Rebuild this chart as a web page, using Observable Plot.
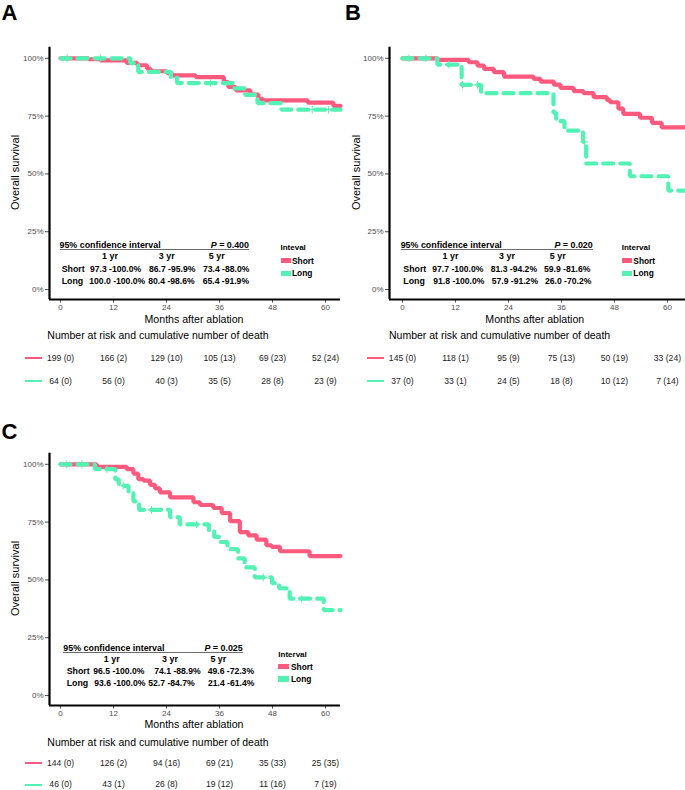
<!DOCTYPE html>
<html><head><meta charset="utf-8">
<script src="https://cdn.jsdelivr.net/npm/d3@7"></script>
<script src="https://cdn.jsdelivr.net/npm/@observablehq/plot@0.6"></script>
<style>
body{margin:0;background:#fff;}
#root{position:relative;width:685px;height:790px;overflow:hidden;background:#fff;font-family:"Liberation Sans",Arial,Helvetica,sans-serif;color:#000;}
.panel{position:absolute;width:345px;height:400px;}
.abs{position:absolute;white-space:pre;line-height:1;}
.panel svg{position:absolute;overflow:visible;}
</style></head><body><div id="root"></div>
<script>
// ---------- shared labels ----------
const monthTicks = [0, 12, 24, 36, 48, 60];
const survTicks = [0, 25, 50, 75, 100];
const groups = ["Short", "Long"];
const yearLabels = ["1 yr", "3 yr", "5 yr"];
const xTitle = "Months after ablation";
const yTitle = "Overall survival";
const riskTitle = "Number at risk and cumulative number of death";
const ciTitle = "95% confidence interval";

// ---------- Panel A ----------
const aShortTime = [0, 6.3, 9, 15, 17.4, 19.6, 20.4, 24.1, 25.2, 30.6, 37, 38, 39.7, 43, 44.8, 45.8, 56, 61.8, 63.4];
const aShortSurv = [100, 99.6, 99.1, 98, 97, 95.5, 94.4, 93.6, 92.6, 91.9, 89.7, 87.6, 86.1, 84.3, 82.5, 81.8, 80.8, 79.4, 79.4];
const aLongTime = [0, 15.8, 17.6, 25, 26.4, 39.3, 41.8, 44.6, 50, 63.4];
const aLongSurv = [100, 97.9, 94.1, 91.8, 89.3, 87, 84.2, 80.6, 77.8, 77.8];
const aLongCensorTime = [1.5, 9, 34, 57, 60.7];
const aLongCensorSurv = [100, 100, 89.3, 77.8, 77.8];
const aRiskShortN = [199, 166, 129, 105, 69, 52];
const aRiskShortD = [0, 2, 10, 13, 23, 24];
const aRiskLongN = [64, 56, 40, 35, 28, 23];
const aRiskLongD = [0, 0, 3, 5, 8, 9];
const aCIShort = ["97.3 -100.0%", "86.7 -95.9%", "73.4 -88.0%"];
const aCILong = ["100.0 -100.0%", "80.4 -98.6%", "65.4 -91.9%"];
const aP = "0.400";
const aLegendTitle = "Inteval";

// ---------- Panel B ----------
const bShortTime = [0, 8, 15, 17, 18.5, 20.7, 23, 29.7, 31.3, 34.3, 35.8, 38.8, 41, 43.3, 46.3, 47, 48.9, 50, 53.8, 56.5, 58.7, 64.1];
const bShortSurv = [100, 99.3, 98.3, 96.8, 95.4, 94, 92.1, 91.1, 89.9, 88.6, 87.2, 85.8, 84.9, 83.2, 82, 81, 78.2, 76, 74.3, 72.1, 70.1, 70.1];
const bLongTime = [0, 7.9, 13.4, 17.8, 34.2, 34.8, 36.7, 40.9, 41.6, 51.5, 60.2, 64.1];
const bLongSurv = [100, 97.3, 88.5, 84.9, 76.5, 72.8, 68.7, 63.8, 54.5, 49.0, 42.8, 42.8];
const bLongCensorTime = [1.5, 5.3, 10.5, 13.6, 17, 41.2];
const bLongCensorSurv = [100, 100, 97.3, 88.5, 88.5, 63.8];
const bRiskShortN = [145, 118, 95, 75, 50, 33];
const bRiskShortD = [0, 1, 9, 13, 19, 24];
const bRiskLongN = [37, 33, 24, 18, 10, 7];
const bRiskLongD = [0, 1, 5, 8, 12, 14];
const bCIShort = ["97.7 -100.0%", "81.3 -94.2%", "59.9 -81.6%"];
const bCILong = ["91.8 -100.0%", "57.9 -91.2%", "26.0 -70.2%"];
const bP = "0.020";
const bLegendTitle = "Interval";

// ---------- Panel C ----------
const cShortTime = [0, 8.2, 15, 16.5, 17.6, 18.8, 20.3, 21.4, 22.5, 24.8, 30.1, 31.6, 34.6, 36.5, 38.4, 40.6, 42.5, 44.4, 46.6, 47.8, 49.7, 56.4, 63.4];
const cShortSurv = [100, 98.9, 97.9, 96, 93.6, 92.9, 91.1, 89.6, 87.9, 85.7, 83.6, 82.4, 81.1, 78.9, 75.4, 70.7, 69.3, 67.4, 65, 64.3, 62.4, 60.3, 60.3];
const cLongTime = [0, 7.8, 12.4, 13.2, 15.4, 16.5, 17.8, 24.8, 27, 33.6, 34.8, 36, 37.8, 40.2, 41.7, 44, 47.9, 49.5, 51.9, 59.6, 63.4];
const cLongSurv = [100, 97.9, 93.5, 90.7, 87.5, 84, 80.3, 77.1, 74, 71.2, 68.6, 66.4, 63.3, 59.3, 55.4, 51.1, 48.6, 46.4, 41.9, 36.9, 36.9];
const cLongCensorTime = [1.4, 4.8, 10.5, 14.2, 20.6, 30.8, 45.9, 54.6];
const cLongCensorSurv = [100, 100, 97.9, 90.7, 80.3, 74, 51.1, 41.9];
const cRiskShortN = [144, 126, 94, 69, 35, 25];
const cRiskShortD = [0, 2, 16, 21, 33, 35];
const cRiskLongN = [46, 43, 26, 19, 11, 7];
const cRiskLongD = [0, 1, 8, 12, 16, 19];
const cCIShort = ["96.5 -100.0%", "74.1 -88.9%", "49.6 -72.3%"];
const cCILong = ["93.6 -100.0%", "52.7 -84.7%", "21.4 -61.4%"];
const cP = "0.025";
const cLegendTitle = "Interval";

// ---------- styling ----------
const PINK = "#FF5A7E";
const GREEN = "#52F2B4";
const FONT = '"Liberation Sans", Arial, Helvetica, sans-serif';
const yDomain = [-4.3, 104.8];

const root = document.getElementById("root");

function txt(parent, str, x, y, o = {}) {
  const size = o.size || 9;
  const d = document.createElement("div");
  d.className = "abs";
  d.style.fontSize = size + "px";
  d.style.fontWeight = o.weight || "normal";
  d.style.color = o.color || "#000";
  d.style.left = x + "px";
  d.style.top = (y - 0.49 * size) + "px";
  const a = o.anchor || "start";
  if (a === "middle") d.style.transform = "translateX(-50%)";
  if (a === "end") d.style.transform = "translateX(-100%)";
  if (o.html) d.innerHTML = str; else d.textContent = str;
  parent.appendChild(d);
  return d;
}
function box(parent, x, y, w, h, color) {
  const d = document.createElement("div");
  d.style.position = "absolute";
  d.style.left = x + "px"; d.style.top = y + "px";
  d.style.width = w + "px"; d.style.height = h + "px";
  d.style.background = color;
  parent.appendChild(d);
}
const zip = (a, b) => a.map((v, i) => ({t: v, s: b[i]}));

function panel(cfg) {
  const p = document.createElement("div");
  p.className = "panel";
  p.style.left = cfg.left + "px";
  p.style.top = cfg.top + "px";
  root.appendChild(p);

  // panel letter
  const L = txt(p, cfg.letter, cfg.letterX, 0, {size: 22, weight: "bold"});
  L.style.top = (cfg.letterBase - 0.8465 * 22) + "px";

  // main KM plot
  const main = Plot.plot({
    width: 345, height: 280,
    marginLeft: 49, marginRight: cfg.mr, marginTop: 6.7, marginBottom: 21,
    x: {domain: cfg.xDomain},
    y: {domain: yDomain},
    style: {fontFamily: FONT, fontSize: "8px", background: "transparent", overflow: "visible"},
    marks: [
      Plot.axisY(survTicks, {tickSize: 4, tickPadding: 2, tickFormat: d => d + "%", color: "#4d4d4d", fontSize: 8, label: null}),
      Plot.axisX(monthTicks, {tickSize: 3.5, tickPadding: 1, color: "#4d4d4d", fontSize: 8, label: null}),
      Plot.line(zip(cfg.shortT, cfg.shortS), {x: "t", y: "s", curve: "step-after", stroke: PINK, strokeWidth: 4.2, strokeLinejoin: "miter"}),
      Plot.line(zip(cfg.longT, cfg.longS), {x: "t", y: "s", curve: "step-after", stroke: GREEN, strokeWidth: 4.2, strokeDasharray: "10,7", strokeLinejoin: "miter"}),
      Plot.dot(zip(cfg.censT, cfg.censS), {x: "t", y: "s", symbol: "plus", r: 2.6, stroke: GREEN, strokeWidth: 1}),
      Plot.ruleX([cfg.xDomain[0]], {stroke: "#000", strokeWidth: 2.2}),
      Plot.ruleY([yDomain[0]], {stroke: "#000", strokeWidth: 2.2})
    ]
  });
  main.style.left = "0px";
  main.style.top = "40px";
  p.appendChild(main);

  // axis titles
  const yt = txt(p, yTitle, cfg.yTitleX, cfg.yTitleY, {size: 11});
  yt.style.transform = "translate(-50%, 0) rotate(-90deg)";
  yt.style.transformOrigin = "50% 50%";
  txt(p, xTitle, cfg.xTitleX, cfg.xTitleY, {size: 10.6, anchor: "middle"});

  // CI table
  const T = cfg.table;
  txt(p, ciTitle, T.hx, T.hy, {size: 8.9, weight: "bold"});
  txt(p, "<i>P</i> = " + cfg.p, T.lineX2, T.hy, {size: 8.9, weight: "bold", anchor: "end", html: true});
  box(p, T.hx, T.lineY, T.lineX2 - T.hx, 1.3, "#6b6b6b");
  yearLabels.forEach((s, i) => txt(p, s, T.colX[i], T.colY, {size: 8.9, weight: "bold", anchor: "middle"}));
  [cfg.ciShort, cfg.ciLong].forEach((row, r) => {
    txt(p, groups[r], T.labelX, T.rowY[r], {size: 8.8, weight: "bold"});
    row.forEach((s, i) => txt(p, s, T.cellX[r][i], T.rowY[r], {size: 8.6, weight: "bold"}));
  });

  // legend
  const G = cfg.legend;
  txt(p, cfg.legendTitle, G.x, G.titleY, {size: 8, weight: "bold"});
  [PINK, GREEN].forEach((c, i) => {
    box(p, G.x, G.swY[i] - 2.6, 10.5, 5.2, c);
    txt(p, groups[i], G.textX, G.swY[i], {size: 8.4, weight: "bold"});
  });

  // risk table
  txt(p, riskTitle, cfg.riskX, cfg.riskTitleY, {size: 10.5});
  const rows = [];
  monthTicks.forEach((m, i) => {
    rows.push({t: m, g: "Short", label: `${cfg.riskShortN[i]} (${cfg.riskShortD[i]})`});
    rows.push({t: m, g: "Long", label: `${cfg.riskLongN[i]} (${cfg.riskLongD[i]})`});
  });
  const risk = Plot.plot({
    width: 345, height: 12 + cfg.rowGap + 11,
    marginLeft: 49, marginRight: cfg.mr, marginTop: 12, marginBottom: 11,
    x: {domain: cfg.xDomain, axis: null},
    y: {type: "point", domain: groups, axis: null, padding: 0},
    style: {fontFamily: FONT, background: "transparent", overflow: "visible"},
    marks: [
      Plot.text(rows, {x: "t", y: "g", text: "label", fontSize: 8.6, fill: "#1a1a1a"})
    ]
  });
  risk.style.left = "0px";
  risk.style.top = cfg.riskTop + "px";
  p.appendChild(risk);
  box(p, cfg.segX, cfg.riskTop + 12 - 1.2, 17, 2.4, PINK);
  box(p, cfg.segX, cfg.riskTop + 12 + cfg.rowGap - 1.2, 17, 2.4, GREEN);
}

panel({
  letter: "A", left: 0, top: 0, mr: 5, xDomain: [-2.5, 63.4], letterX: 1.5, letterBase: 20.5,
  shortT: aShortTime, shortS: aShortSurv, longT: aLongTime, longS: aLongSurv,
  censT: aLongCensorTime, censS: aLongCensorSurv,
  riskShortN: aRiskShortN, riskShortD: aRiskShortD, riskLongN: aRiskLongN, riskLongD: aRiskLongD,
  ciShort: aCIShort, ciLong: aCILong, p: aP, legendTitle: aLegendTitle,
  yTitleX: 15, yTitleY: 172.5, xTitleX: 194, xTitleY: 319,
  table: {hx: 59.5, hy: 245.3, lineY: 249, lineX2: 249, colX: [110, 166.7, 216.7], colY: 256.7,
          rowY: [269, 281], labelX: 61.7, cellX: [[90, 149, 203], [89.3, 148.3, 202.7]]},
  legend: {x: 280.5, titleY: 248.3, swY: [260.8, 273.2], textX: 292},
  riskX: 47.3, riskTitleY: 335, riskTop: 346.3, rowGap: 23, segX: 25
});

panel({
  letter: "B", left: 340, top: 0, mr: 0, xDomain: [-2.94, 64.1], letterX: 5, letterBase: 20.5,
  shortT: bShortTime, shortS: bShortSurv, longT: bLongTime, longS: bLongSurv,
  censT: bLongCensorTime, censS: bLongCensorSurv,
  riskShortN: bRiskShortN, riskShortD: bRiskShortD, riskLongN: bRiskLongN, riskLongD: bRiskLongD,
  ciShort: bCIShort, ciLong: bCILong, p: bP, legendTitle: bLegendTitle,
  yTitleX: 16, yTitleY: 172.5, xTitleX: 194.8, xTitleY: 319,
  table: {hx: 60.7, hy: 245.3, lineY: 249, lineX2: 252.7, colX: [110.5, 167, 217.7], colY: 256.7,
          rowY: [269, 281], labelX: 63.3, cellX: [[92.3, 150.7, 204], [93.3, 151.7, 205]]},
  legend: {x: 281.7, titleY: 248.3, swY: [260.8, 273.2], textX: 293.3},
  riskX: 49, riskTitleY: 335, riskTop: 346.3, rowGap: 23, segX: 27.3
});

panel({
  letter: "C", left: 0, top: 406, mr: 5, xDomain: [-2.5, 63.4], letterX: 1.5, letterBase: 34,
  shortT: cShortTime, shortS: cShortSurv, longT: cLongTime, longS: cLongSurv,
  censT: cLongCensorTime, censS: cLongCensorSurv,
  riskShortN: cRiskShortN, riskShortD: cRiskShortD, riskLongN: cRiskLongN, riskLongD: cRiskLongD,
  ciShort: cCIShort, ciLong: cCILong, p: cP, legendTitle: cLegendTitle,
  yTitleX: 15, yTitleY: 172.5, xTitleX: 194, xTitleY: 318.3,
  table: {hx: 63.3, hy: 242.3, lineY: 245.7, lineX2: 242.7, colX: [111.7, 170, 218.3], colY: 253.3,
          rowY: [265, 277.3], labelX: 66.7, cellX: [[93.3, 154.3, 207.7], [94.3, 148.3, 208]]},
  legend: {x: 278.3, titleY: 249, swY: [260.7, 273], textX: 291},
  riskX: 47.3, riskTitleY: 335.7, riskTop: 345.3, rowGap: 21.7, segX: 25
});
</script></body></html>
